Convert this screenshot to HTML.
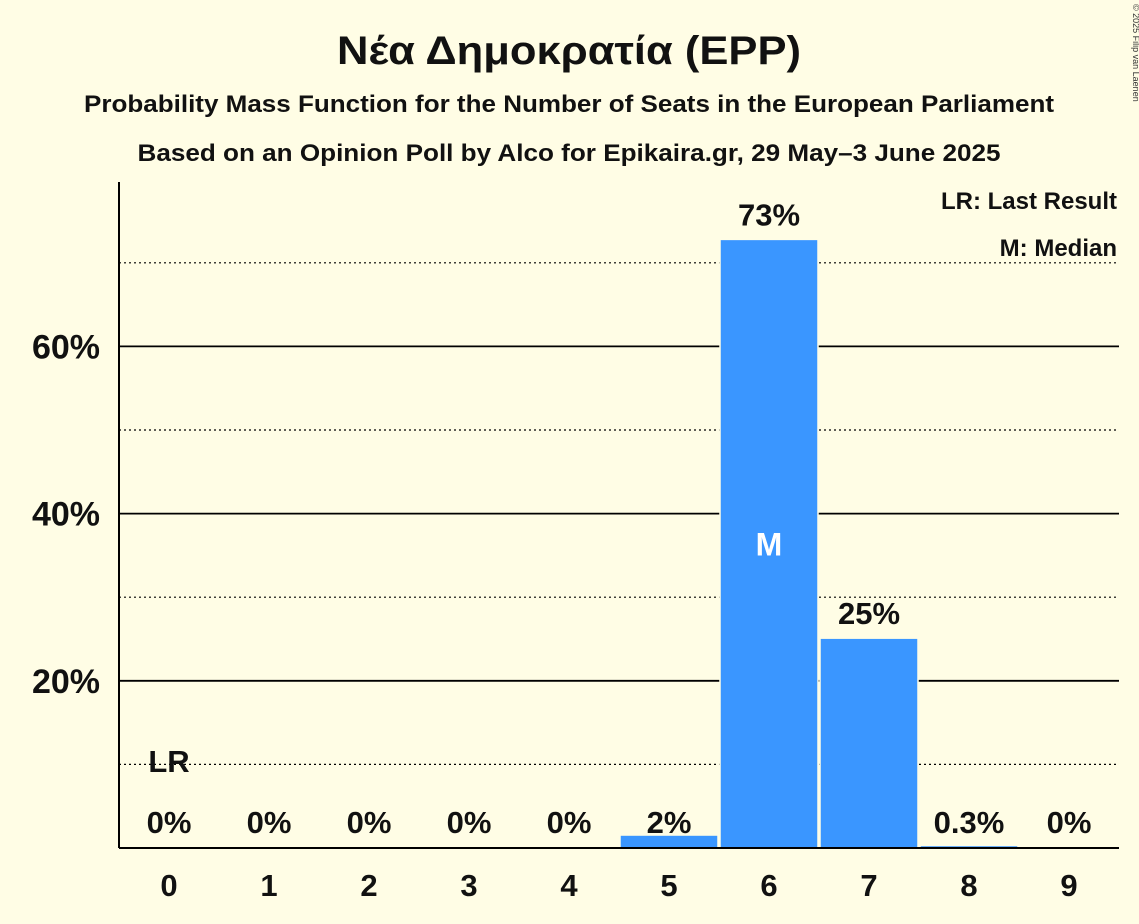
<!DOCTYPE html>
<html><head><meta charset="utf-8"><style>
body{margin:0;background:#fffde5;}
svg{display:block;font-family:"Liberation Sans",sans-serif;}
</style></head><body>
<svg id="c" width="1139" height="924">
<rect width="1139" height="924" fill="#fffde5"/>
<text x="569" y="64" text-anchor="middle" font-size="40" font-weight="bold" fill="#111" textLength="464" lengthAdjust="spacingAndGlyphs">Νέα Δημοκρατία (EPP)</text>
<text x="569" y="112" text-anchor="middle" font-size="24" font-weight="bold" fill="#111" textLength="970" lengthAdjust="spacingAndGlyphs">Probability Mass Function for the Number of Seats in the European Parliament</text>
<text x="569" y="161" text-anchor="middle" font-size="24" font-weight="bold" fill="#111" textLength="863" lengthAdjust="spacingAndGlyphs">Based on an Opinion Poll by Alco for Epikaira.gr, 29 May–3 June 2025</text>
<text x="1133" y="4" font-size="9" fill="#333" transform="rotate(90 1133 4)">© 2025 Filip van Laenen</text>
<g id="grid"></g>
<g id="bars"></g>
<line x1="119" y1="182" x2="119" y2="848" stroke="#000" stroke-width="2"/>
<line x1="119" y1="848" x2="1119" y2="848" stroke="#000" stroke-width="2"/>
<text x="1117" y="209" text-anchor="end" font-size="24" font-weight="bold" fill="#111">LR: Last Result</text>
<text x="1117" y="256" text-anchor="end" font-size="24" font-weight="bold" fill="#111">M: Median</text>
</svg>
<script>
const categories=[0,1,2,3,4,5,6,7,8,9];
const values=[0,0,0,0,0,1.55,72.8,25.1,0.3,0];
const valueLabels=["0%","0%","0%","0%","0%","2%","73%","25%","0.3%","0%"];
const yTicks=[20,40,60];
const yMinor=[10,30,50,70];
const lastResult=0, median=6;
const NS="http://www.w3.org/2000/svg";
const y=v=>848-v*8.36;
const x=i=>169+100*i;
function mk(tag,attrs,parent,txt){const e=document.createElementNS(NS,tag);for(const k in attrs)e.setAttribute(k,attrs[k]);if(txt!==undefined)e.textContent=txt;parent.appendChild(e);return e;}
const g=document.getElementById('grid'),b=document.getElementById('bars');
yMinor.forEach(t=>{const l=mk('line',{x1:119,x2:1119,y1:y(t),y2:y(t),stroke:'#000','stroke-width':1.2,'stroke-dasharray':'2,3'},g);

});
yTicks.forEach(t=>{const l=mk('line',{x1:119,x2:1119,y1:y(t),y2:y(t),stroke:'#000','stroke-width':1.8},g);


const tx=mk('text',{x:100,y:y(t)+12,'text-anchor':'end','font-size':34,'font-weight':'bold',fill:'#111'},g,t+'%');

});
categories.forEach((c,i)=>{
 const v=values[i];
 if(v>0){const r=mk('rect',{x:x(i)-49,y:y(v),width:98,height:848-y(v),fill:'#3a96ff',stroke:'#fffde5','stroke-width':1.5},b);
 
 }
 const ly=(v>5?y(v)-14:833);
 const t=mk('text',{x:x(i),y:ly,'text-anchor':'middle','font-size':31,'font-weight':'bold',fill:'#111'},b,valueLabels[i]);
 
 
 const xl=mk('text',{x:x(i),y:896,'text-anchor':'middle','font-size':31,'font-weight':'bold',fill:'#111'},b,String(c));
 
 
 if(i===lastResult){const lr=mk('text',{x:x(i),y:772,'text-anchor':'middle','font-size':31,'font-weight':'bold',fill:'#111'},b,'LR');
 
 }
 if(i===median){const m=mk('text',{x:x(i),y:y(v/2)+12,'text-anchor':'middle','font-size':32,'font-weight':'bold',fill:'#fff'},b,'M');
 
 }
});
</script>
</body></html>
